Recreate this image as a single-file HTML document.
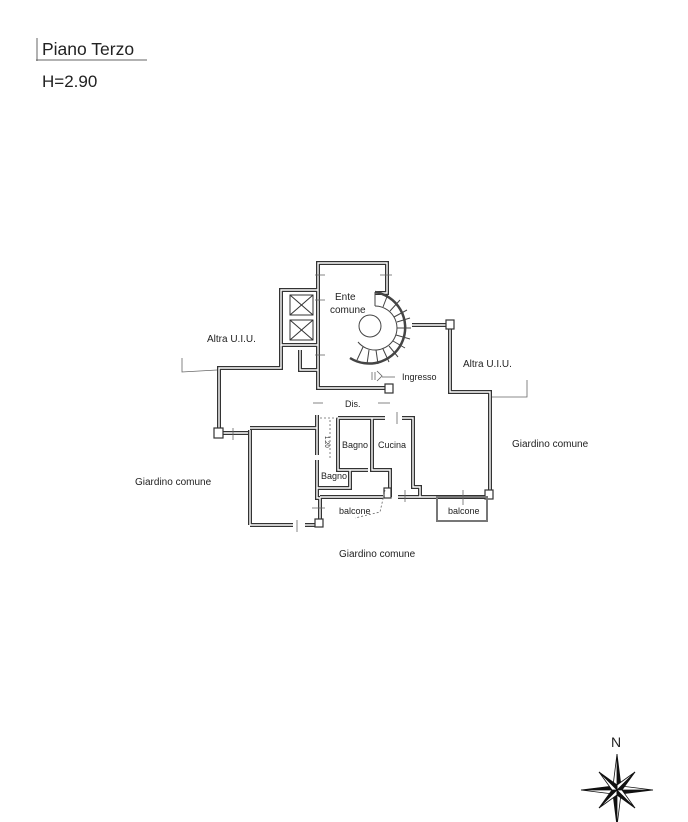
<!DOCTYPE html>
<html><head><meta charset="utf-8"><style>
html,body{margin:0;padding:0;background:#fff}
svg{display:block}
text{font-family:"Liberation Sans",Arial,sans-serif;fill:#222}
</style></head><body>
<svg width="688" height="822" viewBox="0 0 688 822" xmlns="http://www.w3.org/2000/svg" xmlns:xlink="http://www.w3.org/1999/xlink">
<!-- title -->
<line x1="37" y1="38" x2="37" y2="61" stroke="#666" stroke-width="1"/>
<line x1="36" y1="60" x2="147" y2="60" stroke="#666" stroke-width="1"/>
<text x="42" y="55" font-size="17.5">Piano Terzo</text>
<text x="42" y="87" font-size="17">H=2.90</text>

<defs>
<g id="walls">
  <polyline points="375,293 387,293 387,263 318,263 318,388 388,388"/>
  <polyline points="318,290 281,290 281,345 318,345"/>
  <polyline points="281,345 281,368 219,368 219,433"/>
  <polyline points="300,350 300,370 318,370"/>
  <polyline points="219,433 248,433"/>
  <polyline points="250,525 293,525"/>
  <polyline points="250,430 250,525"/>
  <polyline points="250,428 317,428"/>
  <polyline points="317,415 317,455"/>
  <polyline points="317,460 317,498 320,498 320,525"/>
  <line x1="305" y1="525" x2="320" y2="525"/>
  <polyline points="338,418 385,418"/>
  <polyline points="338,418 338,470 368,470"/>
  <polyline points="372,418 372,470 390,470 390,497"/>
  <polyline points="317,488 350,488 350,470"/>
  <polyline points="320,497 383,497"/>
  <polyline points="398,497 487,497"/>
  <polyline points="402,418 413,418 413,487 420,487 420,497"/>
  <polyline points="412,325 450,325 450,392 490,392 490,497"/>
</g>
</defs>
<g fill="none">
<use xlink:href="#walls" href="#walls" stroke="#333" stroke-width="4"/>
<use xlink:href="#walls" href="#walls" stroke="#fff" stroke-width="1.4"/>
<!-- pillars -->
<g stroke="#333" stroke-width="1.2" fill="#fff">
  <rect x="214" y="428" width="9" height="10"/>
  <rect x="446" y="320" width="8" height="9"/>
  <rect x="315" y="519" width="8" height="8"/>
  <rect x="384" y="488" width="7" height="10"/>
  <rect x="485" y="490" width="8" height="9"/>
  <rect x="385" y="384" width="8" height="9"/>
</g>
<!-- lifts -->
<g stroke="#333" stroke-width="1">
  <rect x="290" y="295" width="23" height="20"/>
  <line x1="290" y1="295" x2="313" y2="315"/><line x1="313" y1="295" x2="290" y2="315"/>
  <rect x="290" y="320" width="23" height="20"/>
  <line x1="290" y1="320" x2="313" y2="340"/><line x1="313" y1="320" x2="290" y2="340"/>
</g>
<!-- stair -->
<g stroke="#444" stroke-width="1">
  <path d="M375,292 A36,36 0 1 1 350,358" stroke-width="2.5"/>
  <path d="M375,306 A22,22 0 1 1 358,342"/>
  <circle cx="370" cy="326" r="11"/>
  <line x1="397" y1="328" x2="411" y2="328"/>
  <line x1="375" y1="306" x2="375" y2="292"/>
  <line x1="383" y1="307" x2="388" y2="294"/>
  <line x1="390" y1="311" x2="400" y2="300"/>
  <line x1="394" y1="317" x2="407" y2="310"/>
  <line x1="397" y1="322" x2="410" y2="318"/>
  <line x1="396" y1="335" x2="410" y2="339"/>
  <line x1="393" y1="341" x2="405" y2="348"/>
  <line x1="389" y1="346" x2="398" y2="357"/>
  <line x1="383" y1="349" x2="389" y2="362"/>
  <line x1="376" y1="350" x2="378" y2="364"/>
  <line x1="369" y1="350" x2="367" y2="364"/>
  <line x1="363" y1="347" x2="357" y2="360"/>
</g>
<!-- balcone -->
<rect x="437" y="497" width="50" height="24" stroke="#777" stroke-width="2"/>
<!-- thin lines / stubs -->
<g stroke="#666" stroke-width="0.8">
  <polyline points="182,358 182,372 217,370"/>
  <polyline points="492,397 527,397 527,380"/>
  <line x1="320" y1="418" x2="338" y2="418" stroke-dasharray="2,2"/>
  <line x1="330" y1="420" x2="330" y2="460" stroke-dasharray="2,2"/>
  <polyline points="385,490 380,512 355,518" stroke-dasharray="2,2"/>
  <line x1="372" y1="372" x2="372" y2="380"/>
  <line x1="375" y1="372" x2="375" y2="380"/>
  <path d="M377,371 L382,376 L377,381"/>
  <line x1="315" y1="275" x2="325" y2="275"/><line x1="380" y1="275" x2="392" y2="275"/>
  <line x1="315" y1="300" x2="325" y2="300"/><line x1="315" y1="355" x2="325" y2="355"/>
  <line x1="382" y1="377" x2="395" y2="377"/>
  <line x1="313" y1="403" x2="323" y2="403"/><line x1="378" y1="403" x2="390" y2="403"/>
  <line x1="397" y1="412" x2="397" y2="424"/>
  <line x1="233" y1="428" x2="233" y2="440"/>
  <line x1="297" y1="520" x2="297" y2="532"/>
  <line x1="312" y1="508" x2="325" y2="508"/>
  <line x1="405" y1="490" x2="405" y2="502"/>
  <line x1="463" y1="490" x2="463" y2="505"/>
</g>
</g>

<g font-size="10">
  <text x="335" y="300">Ente</text>
  <text x="330" y="313">comune</text>
  <text x="207" y="342">Altra U.I.U.</text>
  <text x="463" y="367">Altra U.I.U.</text>
  <text x="402" y="380" font-size="9">Ingresso</text>
  <text x="345" y="407" font-size="9">Dis.</text>
  <text x="342" y="448" font-size="9">Bagno</text>
  <text x="378" y="448" font-size="9">Cucina</text>
  <text x="321" y="479" font-size="9">Bagno</text>
  <text x="339" y="514" font-size="9">balcone</text>
  <text x="448" y="514" font-size="9">balcone</text>
  <text x="135" y="485">Giardino comune</text>
  <text x="512" y="447">Giardino comune</text>
  <text x="339" y="557">Giardino comune</text>
  <text x="325" y="436" font-size="6" transform="rotate(90 325 436)">1.20</text>
</g>

<!-- compass -->
<text x="611" y="747" font-size="14">N</text>
<g transform="translate(617,790)" stroke="#111" stroke-width="0.8">
  <polygon points="0,-36 4,-4 0,0" fill="#111"/><polygon points="0,-36 -4,-4 0,0" fill="#fff"/>
  <polygon points="0,36 -4,4 0,0" fill="#111"/><polygon points="0,36 4,4 0,0" fill="#fff"/>
  <polygon points="36,0 4,4 0,0" fill="#111"/><polygon points="36,0 4,-4 0,0" fill="#fff"/>
  <polygon points="-36,0 -4,-4 0,0" fill="#111"/><polygon points="-36,0 -4,4 0,0" fill="#fff"/>
  <polygon points="18,-18 5,0 0,0" fill="#111"/><polygon points="18,-18 0,-5 0,0" fill="#fff"/>
  <polygon points="-18,18 -5,0 0,0" fill="#111"/><polygon points="-18,18 0,5 0,0" fill="#fff"/>
  <polygon points="18,18 0,5 0,0" fill="#111"/><polygon points="18,18 5,0 0,0" fill="#fff"/>
  <polygon points="-18,-18 0,-5 0,0" fill="#111"/><polygon points="-18,-18 -5,0 0,0" fill="#fff"/>
</g>
</svg>
</body></html>
